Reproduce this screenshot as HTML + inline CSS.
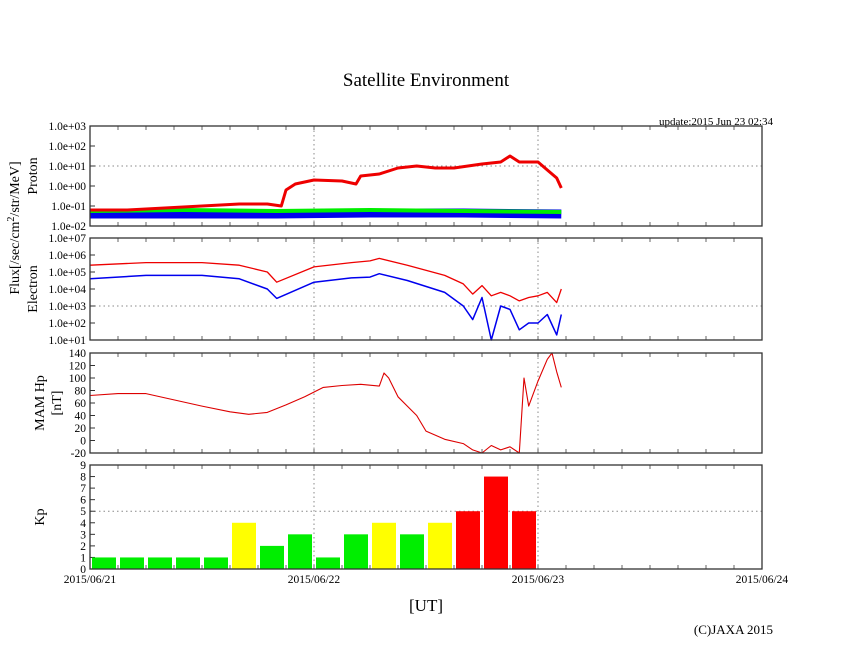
<!DOCTYPE html>
<html><head><meta charset="utf-8"><style>
html,body{margin:0;padding:0;background:#fff;}
svg{display:block;font-family:"Liberation Serif",serif;}
</style></head><body>
<svg id="c" width="846" height="655" viewBox="0 0 846 655" xmlns="http://www.w3.org/2000/svg">
<text x="426" y="86" font-size="19" text-anchor="middle">Satellite Environment</text>
<text x="773" y="125" font-size="11" text-anchor="end">update:2015 Jun 23 02:34</text>
<text x="426" y="611" font-size="17" text-anchor="middle">[UT]</text>
<text x="773" y="634" font-size="13" text-anchor="end">(C)JAXA 2015</text>
<text transform="translate(19,228) rotate(-90)" font-size="14" text-anchor="middle">Flux[/sec/cm<tspan dy="-5" font-size="10">2</tspan><tspan dy="5">/str/MeV]</tspan></text>
<text transform="translate(37,176) rotate(-90)" font-size="14" text-anchor="middle">Proton</text>
<text transform="translate(37,289) rotate(-90)" font-size="14" text-anchor="middle">Electron</text>
<text transform="translate(44,403) rotate(-90)" font-size="14" text-anchor="middle">MAM Hp</text>
<text transform="translate(61,403) rotate(-90)" font-size="14" text-anchor="middle">[nT]</text>
<text transform="translate(44,517) rotate(-90)" font-size="14" text-anchor="middle">Kp</text>
</svg>
<script>
// ---- data (hours since 2015/06/21 00:00 UT) ----
const xDayLabels = ["2015/06/21","2015/06/22","2015/06/23","2015/06/24"];
const protonTicks = ["1.0e+03","1.0e+02","1.0e+01","1.0e+00","1.0e-01","1.0e-02"];
const electronTicks = ["1.0e+07","1.0e+06","1.0e+05","1.0e+04","1.0e+03","1.0e+02","1.0e+01"];
const mamTicks = [140,120,100,80,60,40,20,0,-20];
const kpTicks = [9,8,7,6,5,4,3,2,1,0];

const protonRedHours = [0,4,8,12,16,19,20.5,21,22,24,27,28.5,29,31,33,35,37,39,42,44,45,46,48,49,50,50.5];
const protonRedLog   = [-1.2,-1.2,-1.1,-1.0,-0.9,-0.9,-1.0,-0.2,0.1,0.3,0.25,0.1,0.5,0.6,0.9,1.0,0.9,0.9,1.1,1.2,1.5,1.2,1.2,0.8,0.4,-0.1];
const protonGreenHours = [0,10,20,30,40,50.5];
const protonGreenLog   = [-1.25,-1.2,-1.25,-1.2,-1.25,-1.3];
const protonBlueHours = [0,10,20,30,40,50.5];
const protonBlueLog   = [-1.4,-1.4,-1.4,-1.35,-1.35,-1.4];

const elecHours   = [0,6,12,16,19,20,24,28,30,31,34,38,40,41,42,43,44,45,46,47,48,49,50,50.5];
const elecRedLog  = [5.4,5.55,5.55,5.4,5.0,4.4,5.3,5.55,5.65,5.8,5.4,4.8,4.3,3.7,4.2,3.6,3.8,3.6,3.3,3.5,3.6,3.8,3.2,4.0];
const elecBlueLog = [4.6,4.8,4.8,4.6,4.0,3.45,4.4,4.65,4.7,4.9,4.5,3.8,3.0,2.2,3.5,1.0,3.0,2.8,1.6,2.0,2.0,2.5,1.3,2.5];

const mamHours = [0,3,6,9,12,15,17,19,21,23,25,27,29,31,31.5,32,33,34,35,36,38,40,41,42,43,44,45,46,46.5,47,48,49,49.5,50,50.5];
const mamValues = [72,75,75,65,55,46,42,45,57,70,85,88,90,87,108,100,70,55,40,15,2,-5,-15,-20,-8,-15,-10,-20,100,55,95,130,140,110,85];

const kpValues = [1,1,1,1,1,4,2,3,1,3,4,3,4,5,8,5];

// ---- layout ----
const svg = document.getElementById('c');
const NS = "http://www.w3.org/2000/svg";
const X0 = 90, X1 = 762, HOURS = 72;
const xs = h => X0 + (X1 - X0) * h / HOURS;
const panels = {
  proton:{top:126,bot:226,min:-2,max:3},
  electron:{top:238,bot:340,min:1,max:7},
  mam:{top:353,bot:453,min:-20,max:140},
  kp:{top:465,bot:569,min:0,max:9}
};
const ys = (p,v) => p.bot - (p.bot - p.top) * (v - p.min) / (p.max - p.min);

function mk(tag, attrs, parent){
  const e = document.createElementNS(NS, tag);
  for (const k in attrs) e.setAttribute(k, attrs[k]);
  (parent || svg).appendChild(e);
  return e;
}

function frame(name, p, gridVals){
  const g = mk('g', {});
  
  
  // vertical day grid
  [24,48].forEach(h => {
    const l = mk('line', {x1:xs(h),x2:xs(h),y1:p.top,y2:p.bot,stroke:'#888','stroke-dasharray':'1.5,3'}, g);
    
    
  });
  gridVals.forEach(v => {
    const l = mk('line', {x1:X0,x2:X1,y1:ys(p,v),y2:ys(p,v),stroke:'#888','stroke-dasharray':'1.5,3'}, g);
    
    
  });
  // minor x ticks every 3h
  for (let h = 3; h < HOURS; h += 3){
    mk('line', {x1:xs(h),x2:xs(h),y1:p.bot,y2:p.bot-4,stroke:'#666'}, g);
    mk('line', {x1:xs(h),x2:xs(h),y1:p.top,y2:p.top+4,stroke:'#666'}, g);
  }
  return g;
}

function ticks(name, p, labels, vals){
  labels.forEach((t,i) => {
    const y = ys(p, vals[i]);
    const tx = mk('text', {x:86,y:y+4,'font-size':11.5,'text-anchor':'end'});
    tx.textContent = t;
    
    
    mk('line', {x1:X0,x2:X0+5,y1:y,y2:y,stroke:'#333'});
  });
}

function line(name, p, hrs, vals, color, w){
  const d = hrs.map((h,i) => (i?'L':'M') + xs(h).toFixed(1) + ',' + ys(p, Math.max(p.min, Math.min(p.max, vals[i]))).toFixed(1)).join(' ');
  const e = mk('path', {d:d, fill:'none', stroke:color, 'stroke-width':w, 'stroke-linejoin':'round'});
  
  
}

function border(name, p){
  const r = mk('rect', {x:X0,y:p.top,width:X1-X0,height:p.bot-p.top,fill:'none',stroke:'#333','stroke-width':1.3});
  
  
}

// proton
let P = panels.proton;
frame('proton', P, [1]);
ticks('proton', P, protonTicks, [3,2,1,0,-1,-2]);
line('proton-blue-series', P, protonBlueHours, protonBlueLog, '#0000ee', 9);
line('proton-green-series', P, protonGreenHours, protonGreenLog, '#00ee00', 4);
line('proton-red-series', P, protonRedHours, protonRedLog, '#ee0000', 3);
border('proton', P);

// electron
P = panels.electron;
frame('electron', P, [3]);
ticks('electron', P, electronTicks, [7,6,5,4,3,2,1]);
line('electron-red-series', P, elecHours, elecRedLog, '#ee0000', 1.3);
line('electron-blue-series', P, elecHours, elecBlueLog, '#0000ee', 1.5);
border('electron', P);

// MAM
P = panels.mam;
frame('mam', P, []);
ticks('mam', P, mamTicks.map(String), mamTicks);
line('mam-hp-series', P, mamHours, mamValues, '#dd0000', 1.1);
border('mam', P);

// Kp
P = panels.kp;
frame('kp', P, [5]);
ticks('kp', P, kpTicks.map(String), kpTicks);
kpValues.forEach((v,i) => {
  const color = v >= 5 ? '#ff0000' : (v >= 4 ? '#ffff00' : '#00ee00');
  const x = xs(i*3) + 2, w = xs(3) - xs(0) - 4;
  const r = mk('rect', {x:x, y:ys(P,v), width:w, height:ys(P,0)-ys(P,v), fill:color});
  
  
});
border('kp', P);

// x labels
xDayLabels.forEach((t,i) => {
  const tx = mk('text', {x:xs(i*24), y:583, 'font-size':11.5, 'text-anchor':'middle'});
  tx.textContent = t;
  
  
});
</script>
</body></html>
